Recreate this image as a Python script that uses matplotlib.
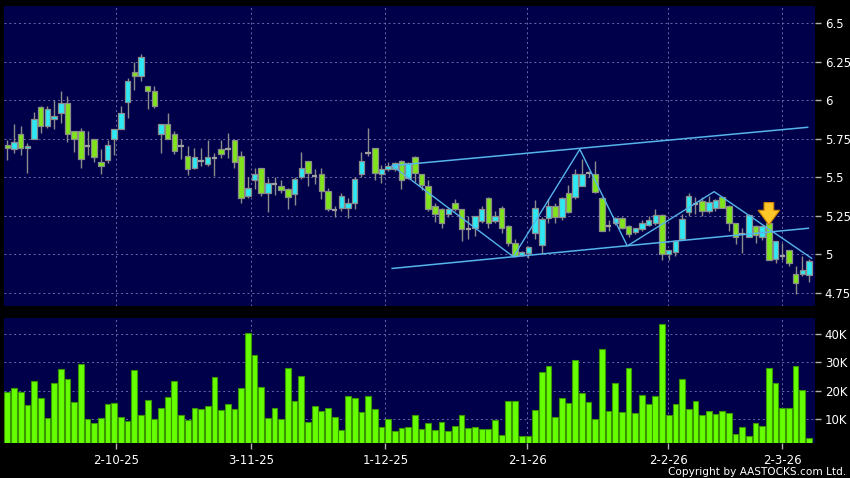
import matplotlib
matplotlib.use('Agg')
import matplotlib.pyplot as plt
import numpy as np

# daily OHLC
opens = [5.71, 5.68, 5.78, 5.69, 5.75, 5.955, 5.83, 5.88, 5.92, 5.98,
         5.80, 5.80, 5.70, 5.75, 5.60, 5.61, 5.75, 5.81, 5.99, 6.18,
         6.16, 6.09, 6.06, 5.78, 5.845, 5.78, 5.70, 5.64, 5.56, 5.607,
         5.585, 5.627, 5.68, 5.68, 5.74, 5.64, 5.38, 5.48, 5.56, 5.40,
         5.456, 5.445, 5.42, 5.39, 5.50, 5.605, 5.508, 5.52, 5.41, 5.287,
         5.30, 5.30, 5.33, 5.52, 5.655, 5.69, 5.52, 5.55, 5.555, 5.605,
         5.495, 5.63, 5.52, 5.445, 5.315, 5.29, 5.26, 5.33, 5.29, 5.16,
         5.168, 5.217, 5.363, 5.217, 5.30, 5.185, 5.07, 4.995, 5.01, 5.136,
         5.06, 5.233, 5.315, 5.24, 5.40, 5.373, 5.443, 5.53, 5.52, 5.363,
         5.183, 5.20, 5.237, 5.185, 5.142, 5.16, 5.19, 5.20, 5.254, 5.00,
         5.015, 5.10, 5.272, 5.324, 5.345, 5.28, 5.30, 5.37, 5.315, 5.20,
         5.13, 5.113, 5.185, 5.11, 5.20, 4.967, 4.99, 5.027, 4.87, 4.87,
         4.864]
highs = [5.74, 5.845, 5.83, 5.72, 5.925, 5.96, 5.96, 6.00, 6.06, 6.03,
         5.80, 5.82, 5.80, 5.75, 5.68, 5.74, 5.81, 5.96, 6.146, 6.245,
         6.30, 6.09, 6.09, 5.845, 5.92, 5.80, 5.75, 5.70, 5.69, 5.69,
         5.74, 5.66, 5.742, 5.79, 5.74, 5.67, 5.50, 5.557, 5.56, 5.497,
         5.50, 5.48, 5.43, 5.50, 5.666, 5.605, 5.55, 5.56, 5.43, 5.315,
         5.40, 5.363, 5.50, 5.666, 5.818, 5.69, 5.58, 5.60, 5.60, 5.61,
         5.60, 5.64, 5.52, 5.48, 5.33, 5.30, 5.30, 5.36, 5.29, 5.248,
         5.25, 5.31, 5.37, 5.28, 5.31, 5.19, 5.10, 5.02, 5.05, 5.35,
         5.24, 5.355, 5.33, 5.37, 5.45, 5.55, 5.62, 5.54, 5.605, 5.37,
         5.22, 5.24, 5.24, 5.19, 5.17, 5.22, 5.25, 5.29, 5.26, 5.03,
         5.09, 5.26, 5.40, 5.37, 5.37, 5.38, 5.36, 5.37, 5.32, 5.20,
         5.17, 5.26, 5.19, 5.19, 5.20, 5.087, 5.07, 5.03, 4.92, 4.99,
         4.97]
lows = [5.61, 5.66, 5.645, 5.53, 5.75, 5.79, 5.82, 5.81, 5.85, 5.73,
        5.665, 5.56, 5.645, 5.60, 5.52, 5.59, 5.645, 5.81, 5.887, 6.067,
        6.127, 5.94, 5.95, 5.66, 5.75, 5.65, 5.617, 5.515, 5.55, 5.57,
        5.57, 5.508, 5.623, 5.627, 5.558, 5.33, 5.363, 5.423, 5.378, 5.276,
        5.385, 5.395, 5.29, 5.32, 5.49, 5.445, 5.456, 5.356, 5.28, 5.24,
        5.28, 5.233, 5.29, 5.50, 5.64, 5.48, 5.46, 5.54, 5.54, 5.42,
        5.49, 5.47, 5.417, 5.28, 5.21, 5.168, 5.24, 5.28, 5.087, 5.096,
        5.118, 5.20, 5.17, 5.20, 5.14, 5.05, 4.98, 4.985, 4.973, 5.10,
        5.00, 5.20, 5.20, 5.22, 5.27, 5.36, 5.44, 5.50, 5.40, 5.15,
        5.15, 5.19, 5.16, 5.11, 5.13, 5.15, 5.18, 5.19, 4.96, 4.96,
        4.99, 5.10, 5.25, 5.26, 5.25, 5.27, 5.28, 5.30, 5.15, 5.065,
        5.01, 5.11, 5.07, 5.09, 4.96, 4.94, 4.96, 4.92, 4.74, 4.86,
        4.82]
closes = [5.69, 5.73, 5.69, 5.70, 5.88, 5.83, 5.94, 5.90, 5.98, 5.78,
          5.75, 5.62, 5.70, 5.63, 5.57, 5.71, 5.81, 5.92, 6.125, 6.16,
          6.28, 6.06, 5.96, 5.845, 5.75, 5.67, 5.70, 5.55, 5.63, 5.607,
          5.63, 5.627, 5.65, 5.68, 5.60, 5.365, 5.43, 5.52, 5.40, 5.46,
          5.456, 5.415, 5.37, 5.49, 5.56, 5.53, 5.508, 5.41, 5.29, 5.287,
          5.38, 5.33, 5.49, 5.607, 5.655, 5.53, 5.55, 5.57, 5.59, 5.48,
          5.59, 5.525, 5.45, 5.29, 5.26, 5.205, 5.29, 5.29, 5.16, 5.16,
          5.25, 5.293, 5.20, 5.25, 5.168, 5.07, 4.99, 5.015, 5.045, 5.30,
          5.23, 5.315, 5.24, 5.363, 5.276, 5.52, 5.52, 5.53, 5.406, 5.153,
          5.183, 5.233, 5.168, 5.13, 5.168, 5.20, 5.22, 5.254, 5.00, 5.03,
          5.087, 5.225, 5.38, 5.324, 5.28, 5.34, 5.35, 5.30, 5.20, 5.11,
          5.13, 5.257, 5.125, 5.183, 4.962, 5.087, 4.99, 4.94, 4.81, 4.90,
          4.955]
volumes = [19700, 21000, 19700, 15100, 23600, 17300, 10400, 22700, 27600, 24000,
           16000, 29300, 10200, 8700, 10300, 15300, 15700, 10700, 9400, 27500,
           11400, 16700, 10100, 14000, 17900, 23600, 11600, 9800, 13800, 13400,
           14700, 24700, 13300, 15300, 13500, 21100, 40300, 32700, 21400, 10300,
           14000, 10200, 28100, 16300, 25300, 9100, 14600, 13000, 14100, 10800,
           6200, 18300, 17300, 12600, 18100, 13600, 7100, 10100, 5900, 6800,
           7200, 11300, 6600, 8700, 6200, 9000, 5700, 7700, 11400, 6900,
           7100, 6500, 6600, 9600, 4300, 16500, 16400, 4200, 4000, 13200,
           26800, 28900, 10900, 17400, 15800, 30800, 19100, 16100, 10200, 34600,
           12900, 22800, 12600, 28100, 12000, 18500, 15400, 18100, 43500, 11300,
           15200, 24000, 13500, 16500, 11300, 12900, 11700, 12800, 12100, 4600,
           7100, 4200, 8700, 7700, 27900, 22700, 13800, 14000, 28900, 20400,
           3400]

date_labels = ['2-10-25', '3-11-25', '1-12-25', '2-1-26', '2-2-26', '2-3-26']
date_idx = [16.3, 36.5, 56.6, 77.8, 98.9, 116.0]

price_ticks = [4.75, 5, 5.25, 5.5, 5.75, 6, 6.25, 6.5]
vol_ticks = [10000, 20000, 30000, 40000]
vol_labels = ['10K', '20K', '30K', '40K']

# drawn trend lines (candle index, price)
upper_x = [57.7, 119.8]
upper_y = [5.575, 5.824]
lower_x = [57.6, 119.9]
lower_y = [4.907, 5.168]
zigzag_x = [57.6, 75.75, 85.7, 92.8, 105.8, 120.4]
zigzag_y = [5.575, 4.983, 5.681, 5.053, 5.406, 4.973]
signal_idx = 114
signal_top = 5.335
signal_tip = 5.19

o = np.array(opens)
h = np.array(highs)
l = np.array(lows)
c = np.array(closes)
x = np.arange(len(o))
up = c > o
dn = c < o
flat = c == o

navy = '#00004a'
gridc = '#6a6aa8'
fig = plt.figure(figsize=(8.5, 4.78), dpi=100, facecolor='black')
ax = fig.add_axes([4/850, 1-306/478, 811/850, 300/478], facecolor=navy)
axv = fig.add_axes([4/850, 1-443/478, 811/850, 125/478], facecolor=navy)

# candles
ax.vlines(x, l, h, color='#8c8c8c', lw=1, zorder=2)
ax.bar(x[up], (c-o)[up], bottom=o[up], width=0.82, color='#2ee8f4',
       edgecolor='#8c8c8c', lw=0.9, zorder=3)
ax.bar(x[dn], (o-c)[dn], bottom=c[dn], width=0.82, color='#80e41c',
       edgecolor='#8c8c8c', lw=0.9, zorder=3)
ax.hlines(o[flat], x[flat]-0.41, x[flat]+0.41, color='#a0a0a0', lw=1.6, zorder=3)

lc = '#55b4ea'
ax.plot(upper_x, upper_y, color=lc, lw=1.1, zorder=4)
ax.plot(lower_x, lower_y, color=lc, lw=1.1, zorder=4)
ax.plot(zigzag_x, zigzag_y, color=lc, lw=1.0, zorder=4)
ax.annotate('', xy=(signal_idx, signal_tip), xytext=(signal_idx, signal_top),
            arrowprops=dict(arrowstyle='simple,head_length=0.75,head_width=1.1,tail_width=0.5',
                            mutation_scale=14, fc='#ffc62a', ec='#d08400', lw=0.8,
                            shrinkA=0, shrinkB=0),
            zorder=6)

# volume
axv.bar(x, volumes, width=0.86, color='#66ff00', edgecolor='#3a9600', lw=0.8, zorder=3)

for a in (ax, axv):
    a.set_xlim(-0.5, 120.9)
    a.set_xticks(date_idx)
    a.grid(True, ls=(0, (2, 3)), color=gridc, lw=0.7, zorder=1)
    a.yaxis.tick_right()
    a.tick_params(axis='y', colors='#b0b0b0', labelcolor='white', length=4,
                  width=1, pad=3, labelsize=8.5)
    for s in a.spines.values():
        s.set_visible(False)

ax.set_ylim(4.663, 6.612)
ax.set_yticks(price_ticks)
ax.set_yticklabels(['%g' % t for t in price_ticks])
ax.tick_params(axis='x', length=0, labelbottom=False)

axv.set_ylim(1570, 45700)
axv.set_yticks(vol_ticks)
axv.set_yticklabels(vol_labels)
axv.set_xticklabels(date_labels)
axv.tick_params(axis='x', colors='#b0b0b0', labelcolor='white', length=4,
                width=1, pad=4, labelsize=8.5)

fig.text(846/850, 1-472/478, 'Copyright by AASTOCKS.com Ltd.', color='white',
         fontsize=7.6, ha='right', va='center')

fig.savefig('out.png', dpi=100, facecolor='black')
